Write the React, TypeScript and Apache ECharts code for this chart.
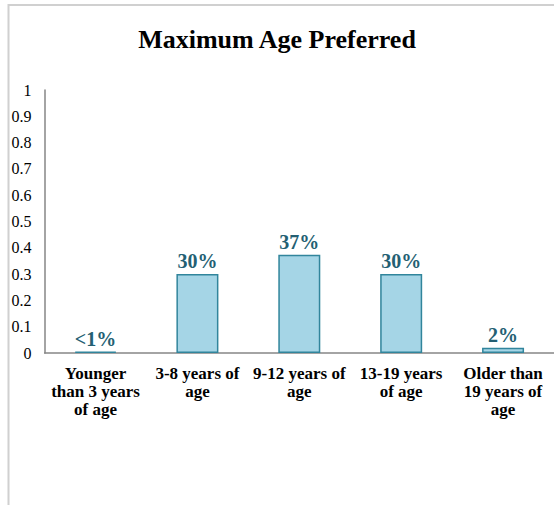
import React, { useEffect, useRef } from "react";
import * as echarts from "echarts";

const categories = [
  "Younger\nthan 3 years\nof age",
  "3-8 years of\nage",
  "9-12 years of\nage",
  "13-19 years\nof age",
  "Older than\n19 years of\nage",
];
const values = [0.005, 0.3, 0.374, 0.3, 0.02];
const valueLabels = ["<1%", "30%", "37%", "30%", "2%"];
const titleText = "Maximum Age Preferred";

export default function App() {
  const ref = useRef<HTMLDivElement>(null);
  useEffect(() => {
    if (!ref.current) return;
    const chart = echarts.init(ref.current, undefined, { renderer: "svg" });
    const font = "Liberation Serif";
    chart.setOption({
      animation: false,
      backgroundColor: "#ffffff",
      title: {
        text: titleText,
        left: "center",
        top: 21,
        textStyle: { fontFamily: font, fontWeight: "bold", fontSize: 26, color: "#000" },
      },
      graphic: [
        {
          type: "rect",
          shape: { x: 8.5, y: 5, width: 700, height: 700 },
          style: { fill: "none", stroke: "#d0d0d0", lineWidth: 2 },
          silent: true,
        },
      ],
      grid: { left: 44.6, top: 90, width: 514.5, height: 263, containLabel: false },
      xAxis: {
        type: "category",
        data: categories,
        axisLine: { lineStyle: { color: "#868686", width: 1.5 } },
        axisTick: { show: false },
        axisLabel: {
          interval: 0,
          margin: 11,
          fontFamily: font,
          fontWeight: "bold",
          fontSize: 17,
          lineHeight: 18,
          color: "#000",
        },
      },
      yAxis: {
        type: "value",
        min: 0,
        max: 1,
        interval: 0.1,
        splitLine: { show: false },
        axisLine: { show: true, lineStyle: { color: "#868686", width: 1.5 } },
        axisTick: { show: false },
        axisLabel: {
          margin: 13,
          fontFamily: font,
          fontSize: 16,
          color: "#000",
          formatter: (v: number) => String(+v.toFixed(1)),
        },
      },
      series: [
        {
          type: "bar",
          data: values,
          barWidth: 42,
          itemStyle: { color: "#a5d5e6", borderColor: "#31859c", borderWidth: 1.5 },
          label: {
            show: true,
            position: "top",
            distance: 3,
            fontFamily: font,
            fontWeight: "bold",
            fontSize: 20,
            color: "#245f73",
            formatter: (p: any) => valueLabels[p.dataIndex],
          },
        },
      ],
    });
    return () => chart.dispose();
  }, []);
  return (
    <div
      ref={ref}
      style={{ position: "fixed", left: 0, top: 0, width: 554, height: 505 }}
    />
  );
}
